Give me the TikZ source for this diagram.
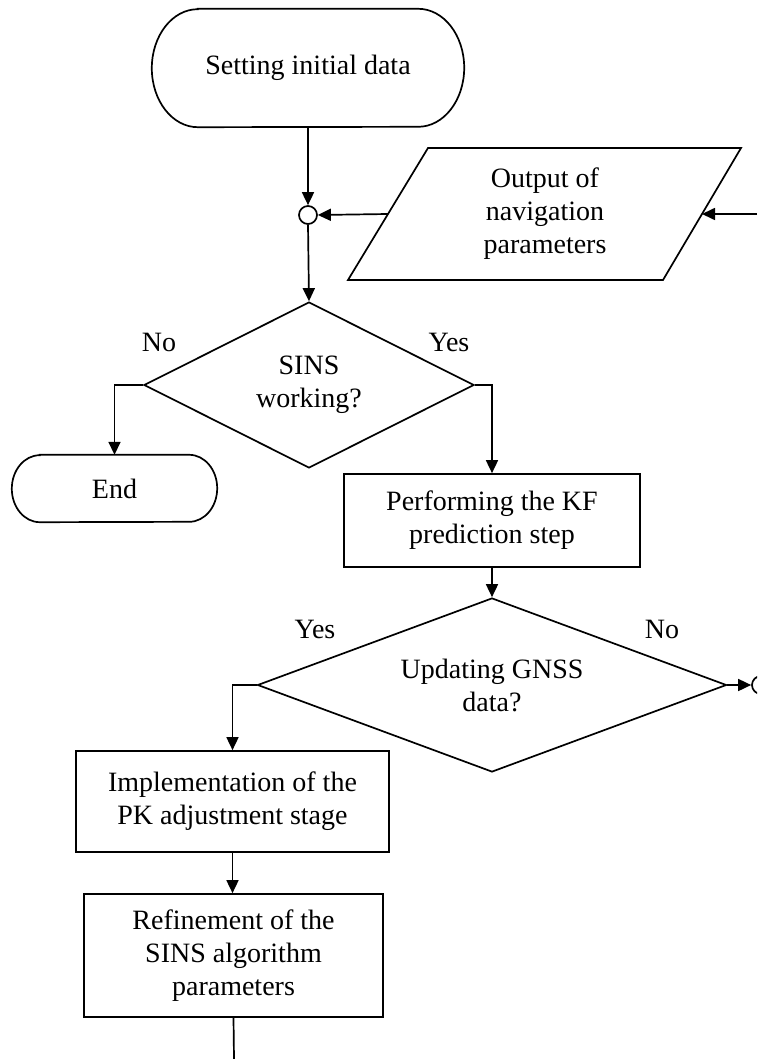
\documentclass[tikz,border=0pt]{standalone}
\usepackage{fontspec}
\setmainfont{Liberation Serif}
\usetikzlibrary{shapes.geometric,arrows.meta,calc}
\begin{document}
\begin{tikzpicture}[x=1pt,y=-1pt,
  every node/.style={font=\fontsize{28}{33}\selectfont, align=center, inner sep=0pt},
  line/.style={line width=1.7pt},
  arr/.style={line, -{Triangle[length=13pt,width=12pt]}},
  procbox/.style={draw, line width=1.7pt, rectangle},
  decision/.style={draw, line width=1.7pt, diamond},
  junction/.style={draw, line width=1.7pt, circle, minimum size=18pt, fill=white},
  lbl/.style={}
]
\useasboundingbox (0,0) rectangle (757,1059);
\clip (0,0) rectangle (757,1059);

% start terminal
\node[minimum width=312pt, minimum height=118pt] (start) at (308,68) {Setting initial data};
\draw[line] ($(start.north west)+(46,0)$) -- ($(start.north east)+(-46,0)$)
  arc[start angle=90,end angle=-90,x radius=46pt,y radius=59pt]
  -- ($(start.south west)+(46,0)$)
  arc[start angle=270,end angle=90,x radius=46pt,y radius=59pt] -- cycle;

% output parallelogram
\node (out) at (545,214) {Output of\\navigation\\parameters};
\draw[line] ($(out)+(-117,-66)$) -- ($(out)+(196,-66)$) -- ($(out)+(118,66)$) -- ($(out)+(-197,66)$) -- cycle;
\coordinate (outL) at ($(out)+(-157,0)$);
\coordinate (outR) at ($(out)+(157,0)$);
\coordinate (rin) at (757,214);

% junction
\node[junction] (j1) at (308,215) {};

% decision 1
\node[decision, minimum width=330pt, minimum height=166pt, aspect=2] (d1) at (309,385) {SINS\\working?};
\node[lbl] (no1) at (159,342) {No};
\node[lbl] (yes1) at (449,342) {Yes};

% end terminal
\node[minimum width=205pt, minimum height=67pt] (endn) at (114.5,488.5) {End};
\draw[line] ($(endn.north west)+(28,0)$) -- ($(endn.north east)+(-28,0)$)
  arc[start angle=90,end angle=-90,x radius=28pt,y radius=33.5pt]
  -- ($(endn.south west)+(28,0)$)
  arc[start angle=270,end angle=90,x radius=28pt,y radius=33.5pt] -- cycle;

% KF box
\node[procbox, minimum width=296pt, minimum height=93pt] (kf) at (492,520.5) {Performing the KF\\prediction step};

% decision 2
\node[decision, minimum width=469pt, minimum height=174pt, aspect=2.7] (d2) at (492,685) {Updating GNSS\\data?};
\node[lbl] (yes2) at (315,629) {Yes};
\node[lbl] (no2) at (662,629) {No};
\node[junction] (j2) at (761,685) {};

% boxes
\node[procbox, minimum width=313pt, minimum height=101pt] (b1) at (232.5,801.5) {Implementation of the\\PK adjustment stage};
\node[procbox, minimum width=299pt, minimum height=123pt] (b2) at (233.5,955.5) {Refinement of the\\SINS algorithm\\parameters};
\coordinate (bot) at (234,1059);

% connectors
\draw[arr] (start.south) -- (j1.north);
\draw[arr] (outL) -- (j1.east);
\draw[arr] (rin) -- (outR);
\draw[arr] (j1.south) -- (d1.north);
\draw[arr] (d1.west) -| (endn.north);
\draw[arr] (d1.east) -| (kf.north);
\draw[arr] (kf.south) -- (d2.north);
\draw[arr] (d2.east) -- (j2.west);
\draw[arr] (d2.west) -| (b1.north);
\draw[arr] (b1.south) -- (b1.south |- b2.north);
\draw[line] (b2.south) -- (bot);
\end{tikzpicture}
\end{document}
